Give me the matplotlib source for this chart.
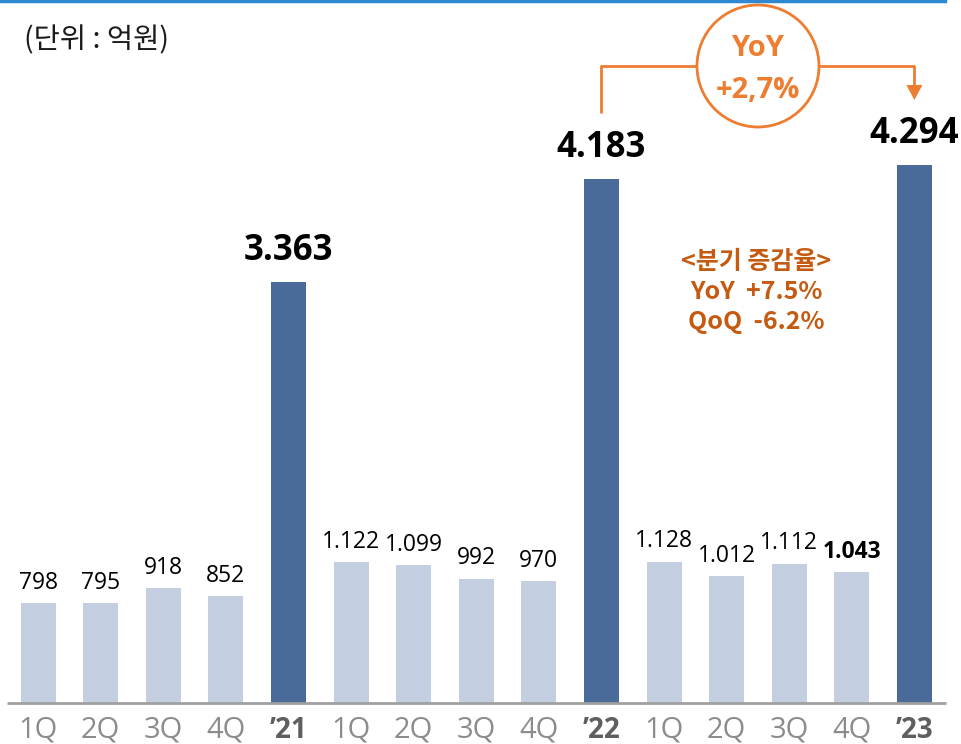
import matplotlib.pyplot as plt
from matplotlib.patches import Circle, Polygon
from matplotlib.lines import Line2D

plt.rcParams['font.family'] = ['Open Sans', 'Noto Sans CJK KR', 'DejaVu Sans']

# Data (억원)
labels = ['1Q', '2Q', '3Q', '4Q', "'21", '1Q', '2Q', '3Q', '4Q', "'22",
          '1Q', '2Q', '3Q', '4Q', "'23"]
values = [798, 795, 918, 852, 3363, 1122, 1099, 992, 970, 4183,
          1128, 1012, 1112, 1043, 4294]
is_year = [l.startswith("'") for l in labels]

light = '#C4CEE1'
dark = '#4A6A99'
orange = '#ED7D31'
dark_orange = '#C55A11'

W, H = 961, 744
fig = plt.figure(figsize=(W / 100, H / 100), dpi=100)
ax = fig.add_axes([0, 0, 1, 1])
ax.axis('off')

# pixel layout: bar i centred at 38 + 62.6*i px, baseline at 703 px, 0.1253 px per unit
x0, pitch = 38, 62.6
base, scale = 703, 0.1253
ax.set_xlim((0 - x0) / pitch, (W - x0) / pitch)
ax.set_ylim(-(H - base) / scale, base / scale)


def px(x, y):
    # figure pixel (from top-left) -> data coords
    return (x - x0) / pitch, (base - y) / scale


xs = list(range(len(values)))
colors = [dark if y else light for y in is_year]
ax.bar(xs, values, width=35 / pitch, color=colors, zorder=2)

# baseline
bx0, by = px(7, 703)
bx1, _ = px(946, 703)
ax.plot([bx0, bx1], [0, 0], color='#A0A0A0', lw=2, zorder=3, solid_capstyle='butt')

# value labels
for i, v in enumerate(values):
    txt = f"{v:,}".replace(',', '.')
    if is_year[i]:
        ax.annotate(txt, (i, v), xytext=(0, 9), textcoords='offset points',
                    ha='center', va='bottom', fontsize=25, fontweight='bold', color='black')
    else:
        bold = (i == len(values) - 2)
        ax.annotate(txt, (i, v), xytext=(0, 6), textcoords='offset points',
                    ha='center', va='bottom', fontsize=16.5,
                    fontweight='bold' if bold else 'normal', color='black')

# category labels
for i, l in enumerate(labels):
    _, ty = px(0, 730)
    if is_year[i]:
        ax.text(i, ty, l.replace("'", '\u2019'), ha='center', va='center', fontsize=20,
                fontweight='bold', color='#5F5F5F')
    else:
        ax.text(i, ty, l, ha='center', va='center', fontsize=21, color='#8C8C8C')

# unit text
ux, uy = px(24, 40)
ax.text(ux, uy, '(단위 : 억원)', ha='left', va='center', fontsize=20.5,
        family=['Noto Sans CJK KR', 'DejaVu Sans'], color='#1A1A1A')

# top rule
fig.add_artist(Line2D([0, 945 / W], [1 - 1 / H, 1 - 1 / H], color='#2F88D2', lw=2.5,
                      transform=fig.transFigure))

# YoY bracket between '22 and '23
cx, cy = 758, 66
r = 61
lx = 9
rx = 14
_, yb = px(0, cy)
_, ylow = px(0, 113)
_, yarr = px(0, 85)
_, ytip = px(0, 100)
cl, _ = px(cx - r, cy)
cr, _ = px(cx + r, cy)
ax.plot([lx, lx, cl], [ylow, yb, yb], color=orange, lw=2, solid_capstyle='butt')
ax.plot([cr, rx, rx], [yb, yb, yarr], color=orange, lw=2, solid_capstyle='butt')
hw = 8 / pitch
ax.add_patch(Polygon([[rx - hw, yarr], [rx + hw, yarr], [rx, ytip]], closed=True,
                     color=orange, lw=0))
ax.add_patch(Circle((cx, H - cy), r, transform=None, fill=False, ec=orange, lw=2))
tx, ty1 = px(cx, 48)
_, ty2 = px(cx, 90)
ax.text(tx, ty1, 'YoY', ha='center', va='center', fontsize=21, fontweight='bold', color=orange)
ax.text(tx, ty2, '+2,7%', ha='center', va='center', fontsize=21, fontweight='bold', color=orange)

# quarterly change note
nx, _ = px(756, 0)
for t, yy in [('<분기 증감율>', 262), ('YoY  +7.5%', 292), ('QoQ  -6.2%', 322)]:
    _, ny = px(0, yy)
    ax.text(nx, ny, t, ha='center', va='center', fontsize=18, fontweight='bold',
            color=dark_orange, family=['Noto Sans CJK KR', 'DejaVu Sans'])

fig.savefig('out.png', dpi=100)
